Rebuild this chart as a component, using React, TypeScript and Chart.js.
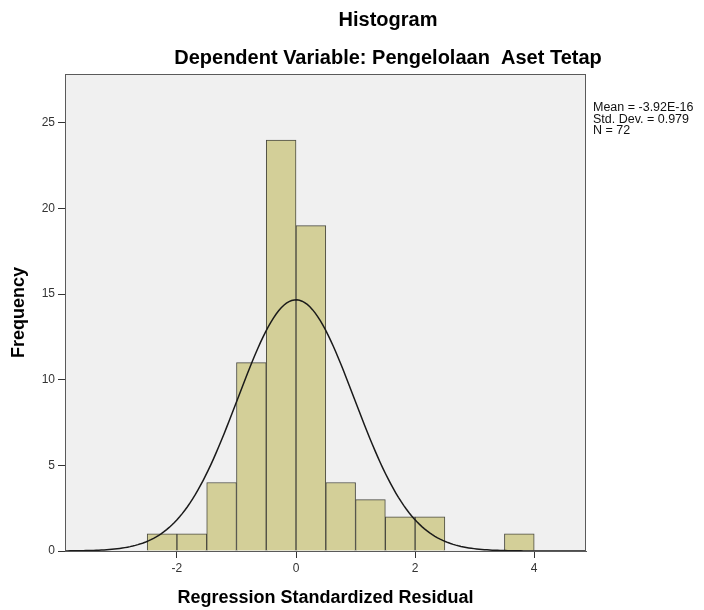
import React, { useEffect, useRef } from "react";
import { Chart, registerables } from "chart.js";

Chart.register(...registerables);

// Histogram bins (left edges, width 0.5) and their frequencies
const BIN_WIDTH = 0.5;
const binStarts = [-2.5, -2, -1.5, -1, -0.5, 0, 0.5, 1, 1.5, 2, 3.5];
const frequencies = [1, 1, 4, 11, 24, 19, 4, 3, 2, 2, 1];

// Summary statistics shown at the right
const MEAN = -3.92e-16;
const STD_DEV = 0.979;
const N = 72;
const statLines = ["Mean = -3.92E-16", "Std. Dev. = 0.979", "N = 72"];

const xTicks = [-2, 0, 2, 4];
const yTicks = [0, 5, 10, 15, 20, 25];
const X_MIN = -3.88;
const X_MAX = 4.87;
const Y_MAX = 27.86;

const TITLE = "Histogram";
const SUBTITLE = "Dependent Variable: Pengelolaan  Aset Tetap";
const X_TITLE = "Regression Standardized Residual";
const Y_TITLE = "Frequency";

const FONT = "'Liberation Sans', Arial, sans-serif";

function normalCurve() {
  const pts: { x: number; y: number }[] = [];
  const steps = 200;
  for (let i = 0; i <= steps; i++) {
    const x = X_MIN + ((X_MAX - X_MIN) * i) / steps;
    const z = (x - MEAN) / STD_DEV;
    const y = (N * BIN_WIDTH * Math.exp(-0.5 * z * z)) / (STD_DEV * Math.sqrt(2 * Math.PI));
    pts.push({ x, y });
  }
  return pts;
}

const framePlugin = {
  id: "frame",
  beforeDatasetsDraw(chart: any) {
    const { ctx, chartArea: a } = chart;
    ctx.save();
    ctx.fillStyle = "#f0f0f0";
    ctx.fillRect(a.left, a.top, a.right - a.left, a.bottom - a.top);
    ctx.restore();
  },
  afterDraw(chart: any) {
    const { ctx, chartArea: a } = chart;
    ctx.save();
    ctx.strokeStyle = "#5a5a5a";
    ctx.lineWidth = 1;
    ctx.strokeRect(a.left + 0.5, a.top + 0.5, a.right - a.left - 1, a.bottom - a.top);
    ctx.fillStyle = "#000";
    ctx.textAlign = "center";
    ctx.textBaseline = "middle";
    ctx.font = `bold 20px ${FONT}`;
    ctx.fillText(TITLE, 388, 20);
    ctx.fillText(SUBTITLE, 388, 58);
    ctx.textAlign = "left";
    ctx.font = `12.5px ${FONT}`;
    ctx.fillStyle = "#111";
    statLines.forEach((s, i) => ctx.fillText(s, 593, 108 + i * 11.5));
    ctx.restore();
  },
};

export default function App() {
  const ref = useRef<HTMLCanvasElement>(null);
  useEffect(() => {
    if (!ref.current) return;
    const chart = new Chart(ref.current, {
      type: "bar",
      data: {
        datasets: [
          {
            type: "scatter" as any,
            data: normalCurve(),
            showLine: true,
            borderColor: "#1a1a1a",
            borderWidth: 1.5,
            pointRadius: 0,
            order: 0,
          } as any,
          {
            type: "bar",
            data: binStarts.map((s, i) => ({ x: s + BIN_WIDTH / 2, y: frequencies[i] })),
            backgroundColor: "#d3cf98",
            borderColor: "#4a4a40",
            borderWidth: 1,
            borderSkipped: "bottom",
            barPercentage: 1,
            categoryPercentage: 1,
            order: 1,
          } as any,
        ],
      },
      options: {
        animation: false,
        responsive: false,
        maintainAspectRatio: false,
        layout: { padding: { top: 74, right: 118, left: 0, bottom: 0 } },
        plugins: { legend: { display: false }, tooltip: { enabled: false }, title: { display: false } },
        scales: {
          x: {
            type: "linear",
            min: X_MIN,
            max: X_MAX,
            offset: false,
            afterBuildTicks: (s: any) => {
              s.ticks = xTicks.map((v) => ({ value: v }));
            },
            afterFit: (s: any) => {
              s.height = 59;
            },
            grid: { offset: false, drawOnChartArea: false, drawTicks: true, tickLength: 7, color: "#333" },
            border: { display: true, color: "#5a5a5a" },
            ticks: { color: "#333", font: { family: FONT, size: 12 }, padding: 3, autoSkip: false, maxRotation: 0 },
            title: { display: true, text: X_TITLE, color: "#000", font: { family: FONT, size: 18, weight: "bold" }, padding: { top: 0, bottom: 1 } },
          },
          y: {
            type: "linear",
            min: 0,
            max: Y_MAX,
            afterBuildTicks: (s: any) => {
              s.ticks = yTicks.map((v) => ({ value: v }));
            },
            afterFit: (s: any) => {
              s.width = 65;
            },
            grid: { offset: false, drawOnChartArea: false, drawTicks: true, tickLength: 7, color: "#333" },
            border: { display: true, color: "#5a5a5a" },
            ticks: { color: "#333", font: { family: FONT, size: 12 }, padding: 3, autoSkip: false },
            title: { display: true, text: Y_TITLE, color: "#000", font: { family: FONT, size: 18, weight: "bold" }, padding: { top: 8, bottom: 0 } },
          },
        },
      },
      plugins: [framePlugin],
    });
    return () => chart.destroy();
  }, []);
  return (
    <div style={{ position: "fixed", left: 0, top: 0, width: 704, height: 610, background: "#fff" }}>
      <canvas ref={ref} width={704} height={610} style={{ width: 704, height: 610 }} />
    </div>
  );
}
